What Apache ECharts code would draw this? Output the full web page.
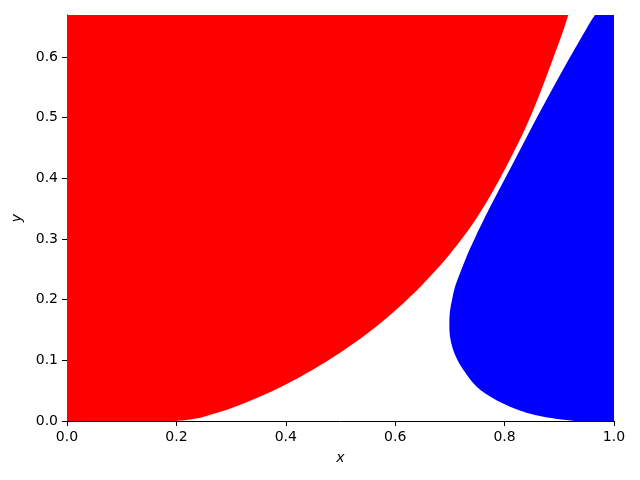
<!DOCTYPE html>
<html>
<head>
<meta charset="utf-8">
<script src="https://cdn.jsdelivr.net/npm/echarts@6/dist/echarts.min.js"></script>
<style>
  html, body { margin: 0; padding: 0; background: #fff; }
  #chart { width: 640px; height: 480px; }
</style>
</head>
<body>
<div id="chart"></div>
<script>
// axis limits
var xMin = 0, xMax = 1;
var yMin = 0, yMax = 0.669;

// lower edge of the red region, from bottom to top
var redEdgeX = [0.2, 0.225, 0.25, 0.3, 0.35, 0.4, 0.45, 0.5, 0.55, 0.6, 0.65, 0.7, 0.75, 0.8, 0.85, 0.9, 0.9165];
var redEdgeY = [0, 0.0024, 0.007, 0.021, 0.039, 0.060, 0.085, 0.113, 0.145, 0.182, 0.225, 0.275, 0.336, 0.414, 0.507, 0.625, 0.669];

// left edge of the blue region, from the bottom round the nose to the top
var blueEdgeX = [0.93, 0.90, 0.871, 0.84, 0.81, 0.779, 0.749, 0.728, 0.714, 0.705, 0.700, 0.699, 0.700, 0.704, 0.709, 0.717, 0.730, 0.745, 0.772, 0.801, 0.830, 0.859, 0.889, 0.920, 0.952, 0.965];
var blueEdgeY = [0, 0.003, 0.007, 0.0137, 0.0236, 0.0374, 0.0566, 0.08, 0.10, 0.12, 0.14, 0.16, 0.18, 0.20, 0.22, 0.24, 0.27, 0.30, 0.35, 0.40, 0.45, 0.50, 0.55, 0.60, 0.65, 0.669];

var xTicks = [0, 0.2, 0.4, 0.6, 0.8, 1.0];
var yTicks = [0, 0.1, 0.2, 0.3, 0.4, 0.5, 0.6];

function zipPts(xs, ys) {
  var out = [];
  for (var i = 0; i < xs.length; i++) out.push([xs[i], ys[i]]);
  return out;
}

var redEdge = zipPts(redEdgeX, redEdgeY);
var blueEdge = zipPts(blueEdgeX, blueEdgeY);

// region = straight run along the plot frame (corners), then a smooth curve through the edge
function regionSeries(name, corners, edge, color) {
  return {
    name: name,
    type: 'custom',
    clip: true,
    silent: true,
    data: edge,
    renderItem: function (params, api) {
      if (params.dataIndex !== 0) return;
      var c = corners.map(function (p) { return api.coord(p); });
      var p = edge.map(function (q) { return api.coord(q); });
      var d = 'M' + c[0][0] + ' ' + c[0][1];
      for (var k = 1; k < c.length; k++) d += ' L' + c[k][0] + ' ' + c[k][1];
      d += ' L' + p[0][0] + ' ' + p[0][1];
      var n = p.length;
      for (var i = 0; i < n - 1; i++) {
        var p0 = p[Math.max(i - 1, 0)], p1 = p[i], p2 = p[i + 1], p3 = p[Math.min(i + 2, n - 1)];
        var c1x = p1[0] + (p2[0] - p0[0]) / 6, c1y = p1[1] + (p2[1] - p0[1]) / 6;
        var c2x = p2[0] - (p3[0] - p1[0]) / 6, c2y = p2[1] - (p3[1] - p1[1]) / 6;
        d += ' C' + c1x + ' ' + c1y + ' ' + c2x + ' ' + c2y + ' ' + p2[0] + ' ' + p2[1];
      }
      d += ' Z';
      return {
        type: 'path',
        shape: { pathData: d },
        style: { fill: color, stroke: null }
      };
    }
  };
}

var font = 'DejaVu Sans';
var chart = echarts.init(document.getElementById('chart'), null, { renderer: 'canvas' });

var option = {
  animation: false,
  backgroundColor: '#ffffff',
  grid: { left: 67, right: 26, top: 15, bottom: 59, containLabel: false },
  xAxis: {
    type: 'value',
    min: xMin, max: xMax, interval: 0.2,
    name: 'x',
    nameLocation: 'middle',
    nameGap: 30,
    nameTextStyle: { fontFamily: font, fontSize: 14, fontStyle: 'italic', color: '#000' },
    axisLine: { show: true, onZero: false, lineStyle: { color: '#000', width: 1 } },
    axisTick: { show: true, inside: false, length: 5, lineStyle: { color: '#000', width: 1 } },
    axisLabel: {
      fontFamily: font, fontSize: 14, color: '#000', margin: 9,
      formatter: function (v) { return v.toFixed(1); }
    },
    splitLine: { show: false }
  },
  yAxis: {
    type: 'value',
    min: yMin, max: yMax, interval: 0.1,
    name: 'y',
    nameLocation: 'middle',
    nameGap: 42,
    nameRotate: 90,
    nameTextStyle: { fontFamily: font, fontSize: 14, fontStyle: 'italic', color: '#000' },
    axisLine: { show: true, onZero: false, lineStyle: { color: '#000', width: 1 } },
    axisTick: { show: true, inside: false, length: 5, lineStyle: { color: '#000', width: 1 } },
    axisLabel: {
      fontFamily: font, fontSize: 14, color: '#000', margin: 9,
      showMaxLabel: false,
      formatter: function (v) {
        return yTicks.indexOf(Math.round(v * 10) / 10) >= 0 ? v.toFixed(1) : '';
      }
    },
    splitLine: { show: false }
  },
  series: [
    regionSeries('red', [[xMin, yMax], [xMin, yMin]], redEdge, '#ff0000'),
    regionSeries('blue', [[xMax, yMax], [xMax, yMin]], blueEdge, '#0000ff')
  ]
};

chart.setOption(option);
</script>
</body>
</html>
